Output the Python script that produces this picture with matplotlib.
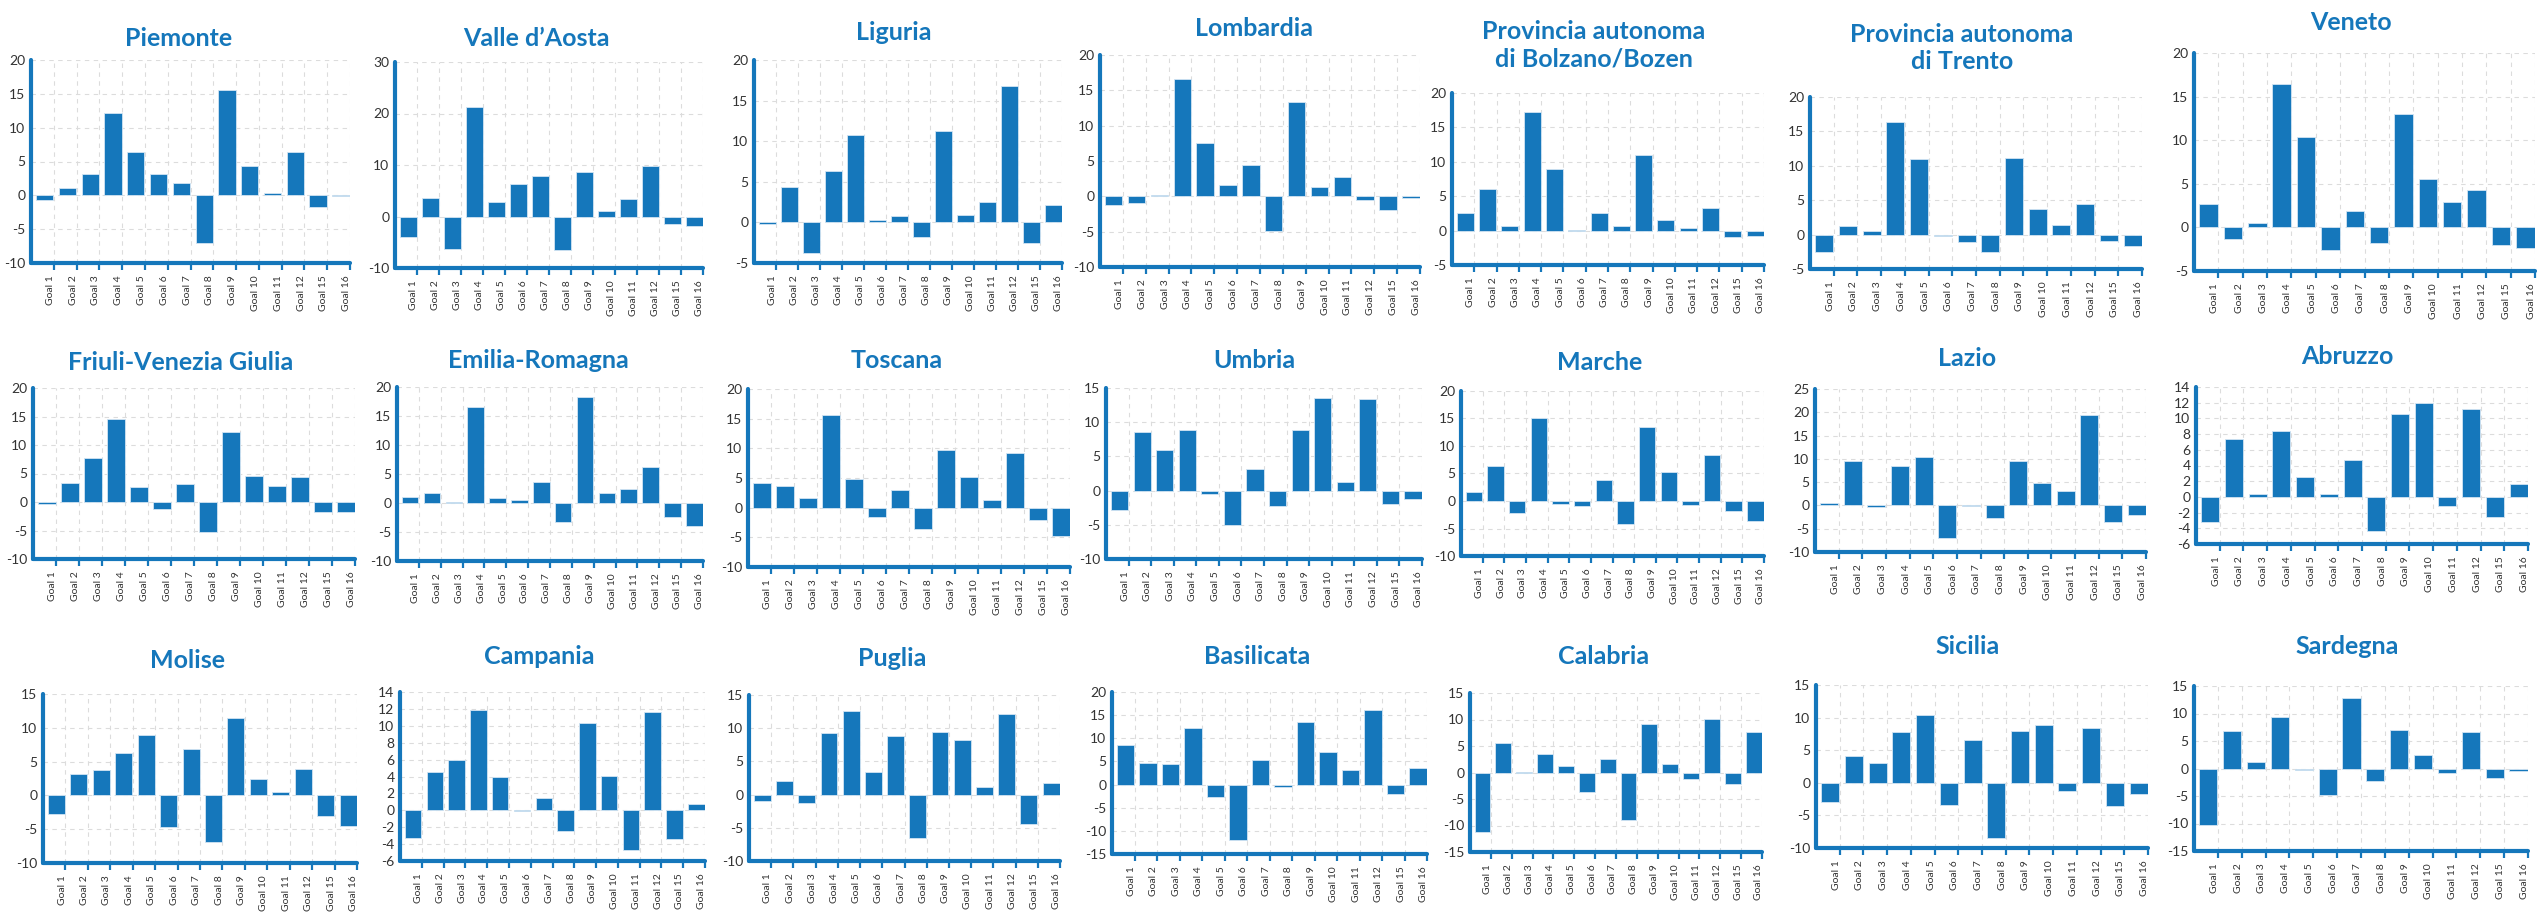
import matplotlib.pyplot as plt
import numpy as np

plt.rcParams["axes.unicode_minus"] = False
plt.rcParams["font.family"] = ["Lato", "DejaVu Sans"]

#  Data 
goals = ["Goal 1", "Goal 2", "Goal 3", "Goal 4", "Goal 5", "Goal 6", "Goal 7",
         "Goal 8", "Goal 9", "Goal 10", "Goal 11", "Goal 12", "Goal 15", "Goal 16"]

piemonte   = [-0.7, 1.1, 3.2, 12.2, 6.4, 3.2, 1.8, -7.0, 15.6, 4.3, 0.4, 6.4, -1.7, -0.1]
valle      = [-4.0, 3.5, -6.3, 21.2, 2.8, 6.4, 7.9, -6.5, 8.6, 1.1, 3.4, 9.8, -1.5, -1.9]
liguria    = [-0.2, 4.3, -3.8, 6.3, 10.8, 0.3, 0.8, -1.8, 11.3, 0.9, 2.5, 16.8, -2.5, 2.1]
lombardia  = [-1.2, -1.0, 0.15, 16.6, 7.5, 1.6, 4.5, -4.9, 13.3, 1.3, 2.7, -0.5, -1.9, -0.3]
bolzano    = [2.6, 6.1, 0.7, 17.3, 8.9, 0.15, 2.6, 0.7, 11.0, 1.6, 0.35, 3.3, -1.0, -0.8]
trento     = [-2.6, 1.3, 0.5, 16.4, 11.0, -0.2, -1.1, -2.6, 11.1, 3.7, 1.4, 4.4, -0.9, -1.6]
veneto     = [2.7, -1.3, 0.45, 16.5, 10.4, -2.6, 1.9, -1.8, 13.0, 5.6, 2.9, 4.3, -2.0, -2.4]
friuli     = [-0.4, 3.4, 7.7, 14.5, 2.6, -1.2, 3.1, -5.2, 12.2, 4.6, 2.8, 4.4, -1.7, -1.7]
emilia     = [1.1, 1.8, 0.2, 16.5, 0.9, 0.5, 3.6, -3.3, 18.2, 1.8, 2.4, 6.2, -2.5, -4.0]
toscana    = [4.1, 3.7, 1.7, 15.7, 4.9, -1.6, 3.0, -3.6, 9.8, 5.2, 1.3, 9.2, -2.0, -4.7]
umbria     = [-2.9, 8.5, 5.9, 8.8, -0.5, -5.0, 3.1, -2.3, 8.8, 13.6, 1.2, 13.4, -1.9, -1.2]
marche     = [1.6, 6.4, -2.1, 15.1, -0.5, -0.9, 3.8, -4.2, 13.4, 5.2, -0.7, 8.3, -1.9, -3.6]
lazio      = [0.6, 9.6, -0.4, 8.4, 10.4, -6.9, -0.1, -2.7, 9.6, 4.9, 3.2, 19.4, -3.5, -2.0]
abruzzo    = [-3.2, 7.4, 0.4, 8.4, 2.5, 0.4, 4.7, -4.3, 10.5, 12.0, -1.2, 11.2, -2.5, 1.7]
molise     = [-2.8, 3.1, 3.8, 6.3, 8.9, -4.7, 6.9, -6.9, 11.5, 2.5, 0.5, 3.9, -3.0, -4.6]
campania   = [-3.3, 4.5, 5.9, 11.9, 3.9, -0.1, 1.5, -2.4, 10.3, 4.1, -4.7, 11.6, -3.4, 0.7]
puglia     = [-0.9, 2.1, -1.2, 9.3, 12.6, 3.4, 8.8, -6.5, 9.5, 8.2, 1.1, 12.1, -4.5, 1.8]
basilicata = [8.5, 4.6, 4.4, 12.2, -2.7, -12.0, 5.4, -0.5, 13.5, 7.1, 3.1, 16.2, -2.0, 3.5]
calabria   = [-11.3, 5.6, 0.15, 3.4, 1.2, -3.6, 2.5, -8.9, 9.2, 1.6, -1.3, 10.1, -2.2, 7.6]
sicilia    = [-3.0, 4.1, 3.1, 7.8, 10.4, -3.4, 6.6, -8.4, 7.9, 8.9, -1.2, 8.4, -3.5, -1.7]
sardegna   = [-10.3, 6.8, 1.2, 9.3, -0.2, -4.9, 12.8, -2.3, 7.0, 2.5, -0.9, 6.6, -1.8, -0.5]

regions = [
    ("Piemonte", piemonte), ("Valle d\u2019Aosta", valle), ("Liguria", liguria),
    ("Lombardia", lombardia), ("Provincia autonoma\ndi Bolzano/Bozen", bolzano),
    ("Provincia autonoma\ndi Trento", trento), ("Veneto", veneto),
    ("Friuli-Venezia Giulia", friuli), ("Emilia-Romagna", emilia), ("Toscana", toscana),
    ("Umbria", umbria), ("Marche", marche), ("Lazio", lazio), ("Abruzzo", abruzzo),
    ("Molise", molise), ("Campania", campania), ("Puglia", puglia),
    ("Basilicata", basilicata), ("Calabria", calabria), ("Sicilia", sicilia),
    ("Sardegna", sardegna),
]

# y axis: (min, max, step) per panel
y_ranges = [
    (-10, 20, 5), (-10, 30, 10), (-5, 20, 5), (-10, 20, 5), (-5, 20, 5), (-5, 20, 5), (-5, 20, 5),
    (-10, 20, 5), (-10, 20, 5), (-10, 20, 5), (-10, 15, 5), (-10, 20, 5), (-10, 25, 5), (-6, 14, 2),
    (-10, 15, 5), (-6, 14, 2), (-10, 15, 5), (-15, 20, 5), (-15, 15, 5), (-10, 15, 5), (-15, 15, 5),
]

#  Layout in pixels: left, right, top, bottom of plot area, title x, title y
layout = [
    (31, 350, 60, 263, 179, 38), (395, 703, 62, 268, 536, 38), (754, 1062, 60, 263, 894, 33),
    (1100, 1420, 55, 267, 1254, 28), (1452, 1764, 93, 265, 1594, 45), (1810, 2142, 97, 269, 1962, 48),
    (2194, 2535, 53, 271, 2351, 22),
    (33, 355, 388, 559, 181, 362), (397, 703, 387, 561, 538, 361), (748, 1070, 389, 567, 897, 360),
    (1106, 1422, 388, 559, 1254, 360), (1461, 1764, 391, 556, 1600, 362), (1815, 2146, 389, 552, 1967, 359),
    (2196, 2528, 387, 544, 2347, 357),
    (43, 357, 694, 863, 187, 661), (400, 705, 692, 861, 539, 656), (749, 1060, 695, 861, 892, 659),
    (1112, 1427, 692, 854, 1257, 656), (1470, 1762, 693, 852, 1604, 656), (1816, 2148, 685, 848, 1968, 646),
    (2194, 2528, 686, 851, 2347, 647),
]

W, H = 2544, 916
BLUE = "#1577bb"

fig = plt.figure(figsize=(W / 100, H / 100), dpi=100)

for (name, vals), (ymin, ymax, step), (l, r, t, b, tx, ty) in zip(regions, y_ranges, layout):
    ax = fig.add_axes([l / W, 1 - b / H, (r - l) / W, (b - t) / H])
    x = np.arange(len(goals))
    ax.bar(x + 0.6, vals, width=0.76, color=BLUE, edgecolor="#d3e5f3", linewidth=0.6, zorder=3)

    ax.set_xlim(0, len(goals))
    ax.set_ylim(ymin, ymax)
    ax.set_yticks(np.arange(ymin, ymax + step / 2, step))

    ax.set_xticks(x + 0.85)
    ax.set_xticklabels(goals, rotation=90, fontsize=7.5, color="#333333")
    ax.set_xticks(x + 1, minor=True)
    ax.tick_params(axis="x", which="major", length=0, pad=9)
    ax.tick_params(axis="x", which="minor", length=5, width=1.6, color=BLUE)
    ax.tick_params(axis="y", length=0, labelsize=10, labelcolor="#333333", pad=4)

    ax.yaxis.grid(True, ls=(0, (4, 4)), color="#dcdcdc", lw=0.8)
    ax.xaxis.grid(True, which="minor", ls=(0, (4, 4)), color="#dcdcdc", lw=0.8)
    ax.xaxis.grid(False, which="major")
    ax.set_axisbelow(True)

    for side in ["top", "right"]:
        ax.spines[side].set_visible(False)
    for side in ["left", "bottom"]:
        ax.spines[side].set_color(BLUE)
        ax.spines[side].set_linewidth(3)
        ax.spines[side].set_capstyle("round")

    fig.text(tx / W, 1 - ty / H, name, ha="center", va="center", fontsize=18,
             fontweight="bold", color=BLUE, linespacing=1.25)

fig.savefig("out.png", dpi=100)
